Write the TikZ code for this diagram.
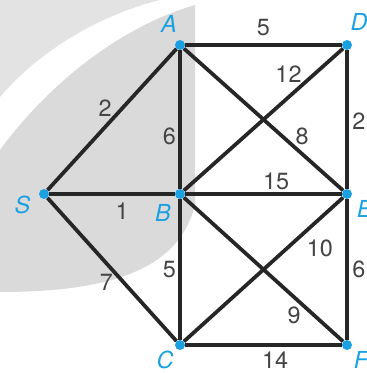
\documentclass[tikz,border=0pt]{standalone}
\usepackage{fontspec}
\setmainfont{TeX Gyre Heros}
\usepackage{xcolor}
\usetikzlibrary{positioning}
\definecolor{vblue}{RGB}{27,160,225}
\definecolor{eline}{RGB}{38,38,38}
\definecolor{wnum}{RGB}{68,68,68}
\definecolor{shadeA}{RGB}{227,227,227}
\definecolor{shadeB}{RGB}{218,218,218}

\begin{document}
\begin{tikzpicture}[
  x=0.03cm, y=-0.03cm,
  font=\fontsize{20}{24}\selectfont,
  vertex/.style={circle, fill=vblue, inner sep=0pt, minimum size=0.3cm},
  lbl/.style={text=vblue, font=\fontsize{20}{24}\selectfont\itshape, inner sep=1pt},
  weight/.style={text=wnum, inner sep=1.5pt, outer sep=0pt},
  link/.style={draw=eline, line width=3.2pt}
]
  \clip (0,0) rectangle (366,373);

  % Background shading
  \fill[shadeA] (0,0) -- (160,0) .. controls (100,15) and (40,50) .. (0,97) -- cycle;
  \fill[shadeB] (0,150) .. controls (40,95) and (110,30) .. (195,5) -- (195,205)
    .. controls (180,265) and (120,292) .. (0,292) -- cycle;

  % Vertices
  \node[vertex, label={[lbl, label distance=5pt]100:A}] (A) at (180,45) {};
  \node[vertex, label={[lbl, label distance=7pt]80:D}] (D) at (347,45) {};
  \node[vertex, label={[lbl, label distance=6pt]185:S}] (S) at (44,194) {};
  \node[vertex, label={[lbl, label distance=6pt]230:B}] (B) at (180,194) {};
  \node[vertex, label={[lbl, label distance=4pt]-32:E}] (E) at (347,194) {};
  \node[vertex, label={[lbl, label distance=1.5pt]-135:C}] (C) at (180,345) {};
  \node[vertex, label={[lbl, label distance=2pt]-45:F}] (F) at (347,345) {};

  % Edges
  \draw[link] (A) -- node[weight, pos=0.5, above=6pt] {5} (D);
  \draw[link] (S) -- node[weight, pos=0.51, above left] {2} (A);
  \draw[link] (A) -- node[weight, pos=0.62, left=2pt] {6} (B);
  \draw[link] (A) -- node[weight, pos=0.69, above right] {8} (E);
  \draw[link] (B) -- node[weight, pos=0.75, above left] {12} (D);
  \draw[link] (D) -- node[weight, pos=0.51, right=3pt] {2} (E);
  \draw[link] (S) -- node[weight, pos=0.58, below=6pt] {1} (B);
  \draw[link] (B) -- node[weight, pos=0.58, above=2pt] {15} (E);
  \draw[link] (B) -- node[weight, pos=0.5, left=2pt] {5} (C);
  \draw[link] (E) -- node[weight, pos=0.5, right=3pt] {6} (F);
  \draw[link] (S) -- node[weight, pos=0.52, below left] {7} (C);
  \draw[link] (B) -- node[weight, pos=0.745, below left] {9} (F);
  \draw[link] (C) -- node[weight, pos=0.74, below right=4pt] {10} (E);
  \draw[link] (C) -- node[weight, pos=0.575, below=4pt] {14} (F);
\end{tikzpicture}
\end{document}
